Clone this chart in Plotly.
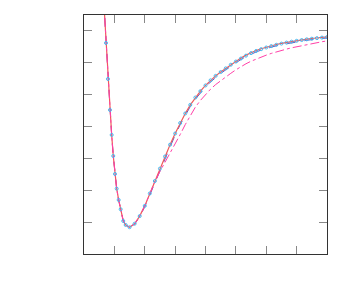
import plotly.graph_objects as go

# Reference curve (solid)
x_ref = [0.648, 0.724, 0.789, 0.855, 0.911, 0.964, 1.020, 1.076, 1.141, 1.207, 1.293, 1.372, 1.5,
         1.667, 1.833, 2.0, 2.167, 2.333, 2.5, 2.667, 2.833, 3.0, 3.167, 3.333, 3.5, 3.667, 3.833,
         4.0, 4.167, 4.333, 4.5, 4.667, 4.833, 5.0, 5.167, 5.333, 5.5, 5.667, 5.833, 6.0, 6.167,
         6.333, 6.5, 6.667, 6.833, 7.0, 7.167, 7.333, 7.5, 7.667, 7.833, 8.0]
y_ref = [0.973, -0.377, -1.507, -2.480, -3.264, -3.923, -4.488, -4.950, -5.304, -5.596, -5.964, -6.089, -6.16,
         -6.05, -5.81, -5.49, -5.10, -4.71, -4.32, -3.94, -3.57, -3.22, -2.89, -2.59, -2.32, -2.09, -1.89,
         -1.71, -1.55, -1.41, -1.29, -1.175, -1.06, -0.95, -0.85, -0.76, -0.68, -0.615, -0.56, -0.51, -0.465,
         -0.425, -0.39, -0.36, -0.33, -0.305, -0.28, -0.258, -0.238, -0.22, -0.203, -0.187]

# Second model (dashed, close to reference)
y_dash = [0.973, -0.377, -1.507, -2.480, -3.264, -3.923, -4.488, -4.950, -5.304, -5.596, -5.964, -6.089, -6.16,
          -6.06, -5.83, -5.52, -5.14, -4.76, -4.37, -3.99, -3.62, -3.27, -2.94, -2.64, -2.37, -2.14, -1.94,
          -1.76, -1.60, -1.455, -1.335, -1.22, -1.105, -0.995, -0.895, -0.805, -0.725, -0.66, -0.60, -0.55, -0.505,
          -0.465, -0.43, -0.398, -0.368, -0.342, -0.317, -0.294, -0.273, -0.254, -0.237, -0.221]

# Markers (sampled data)
x_pts = [0.724, 0.789, 0.855, 0.911, 0.964, 1.020, 1.076, 1.141, 1.207, 1.293, 1.372, 1.5,
         1.667, 1.833, 2.0, 2.167, 2.333, 2.5, 2.667, 2.833, 3.0, 3.167, 3.333, 3.5, 3.667, 3.833,
         4.0, 4.167, 4.333, 4.5, 4.667, 4.833, 5.0, 5.167, 5.333, 5.5, 5.667, 5.833, 6.0, 6.167,
         6.333, 6.5, 6.667, 6.833, 7.0, 7.167, 7.333, 7.5, 7.667, 7.833, 8.0]
y_pts = [-0.377, -1.507, -2.480, -3.264, -3.923, -4.488, -4.950, -5.304, -5.596, -5.964, -6.089, -6.16,
         -6.05, -5.81, -5.49, -5.10, -4.71, -4.32, -3.94, -3.57, -3.22, -2.89, -2.59, -2.32, -2.09, -1.89,
         -1.71, -1.55, -1.41, -1.29, -1.175, -1.06, -0.96, -0.865, -0.775, -0.695, -0.63, -0.572, -0.52, -0.475,
         -0.435, -0.398, -0.366, -0.337, -0.31, -0.286, -0.264, -0.244, -0.226, -0.209, -0.194]

# Approximate model (dash-dot, diverging)
y_apx = [0.973, -0.377, -1.507, -2.480, -3.264, -3.923, -4.488, -4.950, -5.304, -5.596, -5.964, -6.089, -6.16,
         -6.05, -5.81, -5.49, -5.10, -4.73, -4.41, -4.13, -3.85, -3.56, -3.25, -2.94, -2.65, -2.39, -2.18,
         -1.99, -1.827, -1.684, -1.56, -1.445, -1.33, -1.22, -1.12, -1.03, -0.95, -0.88, -0.82, -0.76, -0.705,
         -0.655, -0.61, -0.57, -0.53, -0.495, -0.46, -0.426, -0.395, -0.366, -0.339, -0.313]

fig = go.Figure()
fig.add_trace(go.Scatter(x=x_ref, y=y_dash, mode="lines",
                         line=dict(color="#5a5ac8", width=1, dash="dash"), showlegend=False))
fig.add_trace(go.Scatter(x=x_ref, y=y_ref, mode="lines",
                         line=dict(color="#f05a5a", width=1.2), showlegend=False))
fig.add_trace(go.Scatter(x=x_ref, y=y_apx, mode="lines",
                         line=dict(color="#ff40a8", width=1, dash="dashdot"), showlegend=False))
fig.add_trace(go.Scatter(x=x_pts, y=y_pts, mode="markers",
                         marker=dict(symbol="circle-open", size=3, color="#44b8f0",
                                     line=dict(width=1, color="#44b8f0")),
                         showlegend=False))

axis_common = dict(showgrid=False, zeroline=False, showticklabels=False,
                   ticks="inside", ticklen=8, tickcolor="#888888", tickwidth=1,
                   showline=True, linecolor="#333333", linewidth=1, mirror="ticks")
fig.update_xaxes(range=[0, 8], tick0=0, dtick=1, **axis_common)
fig.update_yaxes(range=[-7, 0.5], tick0=0, dtick=1, **axis_common)
fig.update_layout(width=333, height=284, margin=dict(l=76, r=14, t=7, b=38),
                  plot_bgcolor="white", paper_bgcolor="white")
fig.write_html("out.html")
